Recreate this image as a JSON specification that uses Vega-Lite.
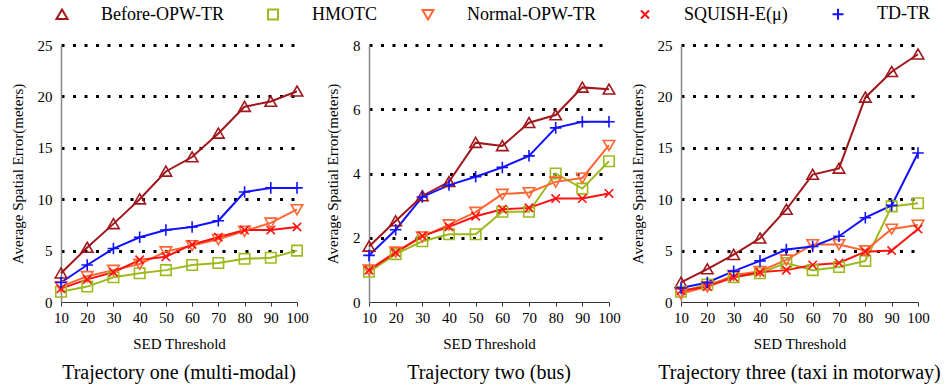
{
  "$schema": "https://vega.github.io/schema/vega-lite/v6.json",
  "padding": {"left": 10, "top": 5, "right": 2, "bottom": 2},
  "background": "white",
  "data": {"values": [
    {"p":1,"s":"Before-OPW-TR","x":10,"y":2.8},{"p":1,"s":"Before-OPW-TR","x":20,"y":5.3},{"p":1,"s":"Before-OPW-TR","x":30,"y":7.6},{"p":1,"s":"Before-OPW-TR","x":40,"y":10.0},{"p":1,"s":"Before-OPW-TR","x":50,"y":12.7},{"p":1,"s":"Before-OPW-TR","x":60,"y":14.1},{"p":1,"s":"Before-OPW-TR","x":70,"y":16.4},{"p":1,"s":"Before-OPW-TR","x":80,"y":19.0},{"p":1,"s":"Before-OPW-TR","x":90,"y":19.5},{"p":1,"s":"Before-OPW-TR","x":100,"y":20.5},
    {"p":1,"s":"HMOTC","x":10,"y":1.0},{"p":1,"s":"HMOTC","x":20,"y":1.5},{"p":1,"s":"HMOTC","x":30,"y":2.4},{"p":1,"s":"HMOTC","x":40,"y":2.8},{"p":1,"s":"HMOTC","x":50,"y":3.1},{"p":1,"s":"HMOTC","x":60,"y":3.6},{"p":1,"s":"HMOTC","x":70,"y":3.8},{"p":1,"s":"HMOTC","x":80,"y":4.2},{"p":1,"s":"HMOTC","x":90,"y":4.3},{"p":1,"s":"HMOTC","x":100,"y":5.0},
    {"p":1,"s":"Normal-OPW-TR","x":10,"y":1.5},{"p":1,"s":"Normal-OPW-TR","x":20,"y":2.5},{"p":1,"s":"Normal-OPW-TR","x":30,"y":3.1},{"p":1,"s":"Normal-OPW-TR","x":40,"y":3.7},{"p":1,"s":"Normal-OPW-TR","x":50,"y":4.9},{"p":1,"s":"Normal-OPW-TR","x":60,"y":5.5},{"p":1,"s":"Normal-OPW-TR","x":70,"y":6.1},{"p":1,"s":"Normal-OPW-TR","x":80,"y":6.9},{"p":1,"s":"Normal-OPW-TR","x":90,"y":7.7},{"p":1,"s":"Normal-OPW-TR","x":100,"y":9.0},
    {"p":1,"s":"SQUISH-E(μ)","x":10,"y":1.3},{"p":1,"s":"SQUISH-E(μ)","x":20,"y":2.2},{"p":1,"s":"SQUISH-E(μ)","x":30,"y":2.9},{"p":1,"s":"SQUISH-E(μ)","x":40,"y":4.1},{"p":1,"s":"SQUISH-E(μ)","x":50,"y":4.4},{"p":1,"s":"SQUISH-E(μ)","x":60,"y":5.6},{"p":1,"s":"SQUISH-E(μ)","x":70,"y":6.3},{"p":1,"s":"SQUISH-E(μ)","x":80,"y":7.0},{"p":1,"s":"SQUISH-E(μ)","x":90,"y":7.0},{"p":1,"s":"SQUISH-E(μ)","x":100,"y":7.3},
    {"p":1,"s":"TD-TR","x":10,"y":1.9},{"p":1,"s":"TD-TR","x":20,"y":3.6},{"p":1,"s":"TD-TR","x":30,"y":5.2},{"p":1,"s":"TD-TR","x":40,"y":6.3},{"p":1,"s":"TD-TR","x":50,"y":7.0},{"p":1,"s":"TD-TR","x":60,"y":7.3},{"p":1,"s":"TD-TR","x":70,"y":7.9},{"p":1,"s":"TD-TR","x":80,"y":10.7},{"p":1,"s":"TD-TR","x":90,"y":11.1},{"p":1,"s":"TD-TR","x":100,"y":11.1},
    {"p":2,"s":"Before-OPW-TR","x":10,"y":1.73},{"p":2,"s":"Before-OPW-TR","x":20,"y":2.52},{"p":2,"s":"Before-OPW-TR","x":30,"y":3.3},{"p":2,"s":"Before-OPW-TR","x":40,"y":3.74},{"p":2,"s":"Before-OPW-TR","x":50,"y":4.96},{"p":2,"s":"Before-OPW-TR","x":60,"y":4.86},{"p":2,"s":"Before-OPW-TR","x":70,"y":5.58},{"p":2,"s":"Before-OPW-TR","x":80,"y":5.82},{"p":2,"s":"Before-OPW-TR","x":90,"y":6.68},{"p":2,"s":"Before-OPW-TR","x":100,"y":6.62},
    {"p":2,"s":"HMOTC","x":10,"y":0.94},{"p":2,"s":"HMOTC","x":20,"y":1.49},{"p":2,"s":"HMOTC","x":30,"y":1.89},{"p":2,"s":"HMOTC","x":40,"y":2.11},{"p":2,"s":"HMOTC","x":50,"y":2.11},{"p":2,"s":"HMOTC","x":60,"y":2.81},{"p":2,"s":"HMOTC","x":70,"y":2.81},{"p":2,"s":"HMOTC","x":80,"y":4.0},{"p":2,"s":"HMOTC","x":90,"y":3.53},{"p":2,"s":"HMOTC","x":100,"y":4.38},
    {"p":2,"s":"Normal-OPW-TR","x":10,"y":1.0},{"p":2,"s":"Normal-OPW-TR","x":20,"y":1.56},{"p":2,"s":"Normal-OPW-TR","x":30,"y":2.03},{"p":2,"s":"Normal-OPW-TR","x":40,"y":2.41},{"p":2,"s":"Normal-OPW-TR","x":50,"y":2.8},{"p":2,"s":"Normal-OPW-TR","x":60,"y":3.36},{"p":2,"s":"Normal-OPW-TR","x":70,"y":3.41},{"p":2,"s":"Normal-OPW-TR","x":80,"y":3.74},{"p":2,"s":"Normal-OPW-TR","x":90,"y":3.86},{"p":2,"s":"Normal-OPW-TR","x":100,"y":4.88},
    {"p":2,"s":"SQUISH-E(μ)","x":10,"y":0.99},{"p":2,"s":"SQUISH-E(μ)","x":20,"y":1.54},{"p":2,"s":"SQUISH-E(μ)","x":30,"y":2.06},{"p":2,"s":"SQUISH-E(μ)","x":40,"y":2.34},{"p":2,"s":"SQUISH-E(μ)","x":50,"y":2.67},{"p":2,"s":"SQUISH-E(μ)","x":60,"y":2.89},{"p":2,"s":"SQUISH-E(μ)","x":70,"y":2.93},{"p":2,"s":"SQUISH-E(μ)","x":80,"y":3.22},{"p":2,"s":"SQUISH-E(μ)","x":90,"y":3.22},{"p":2,"s":"SQUISH-E(μ)","x":100,"y":3.38},
    {"p":2,"s":"TD-TR","x":10,"y":1.45},{"p":2,"s":"TD-TR","x":20,"y":2.25},{"p":2,"s":"TD-TR","x":30,"y":3.27},{"p":2,"s":"TD-TR","x":40,"y":3.64},{"p":2,"s":"TD-TR","x":50,"y":3.9},{"p":2,"s":"TD-TR","x":60,"y":4.19},{"p":2,"s":"TD-TR","x":70,"y":4.55},{"p":2,"s":"TD-TR","x":80,"y":5.42},{"p":2,"s":"TD-TR","x":90,"y":5.61},{"p":2,"s":"TD-TR","x":100,"y":5.61},
    {"p":3,"s":"Before-OPW-TR","x":10,"y":1.9},{"p":3,"s":"Before-OPW-TR","x":20,"y":3.2},{"p":3,"s":"Before-OPW-TR","x":30,"y":4.6},{"p":3,"s":"Before-OPW-TR","x":40,"y":6.2},{"p":3,"s":"Before-OPW-TR","x":50,"y":9.0},{"p":3,"s":"Before-OPW-TR","x":60,"y":12.4},{"p":3,"s":"Before-OPW-TR","x":70,"y":13.0},{"p":3,"s":"Before-OPW-TR","x":80,"y":19.9},{"p":3,"s":"Before-OPW-TR","x":90,"y":22.4},{"p":3,"s":"Before-OPW-TR","x":100,"y":24.1},
    {"p":3,"s":"HMOTC","x":10,"y":1.0},{"p":3,"s":"HMOTC","x":20,"y":1.7},{"p":3,"s":"HMOTC","x":30,"y":2.4},{"p":3,"s":"HMOTC","x":40,"y":2.8},{"p":3,"s":"HMOTC","x":50,"y":3.8},{"p":3,"s":"HMOTC","x":60,"y":3.1},{"p":3,"s":"HMOTC","x":70,"y":3.4},{"p":3,"s":"HMOTC","x":80,"y":4.0},{"p":3,"s":"HMOTC","x":90,"y":9.3},{"p":3,"s":"HMOTC","x":100,"y":9.6},
    {"p":3,"s":"Normal-OPW-TR","x":10,"y":0.8},{"p":3,"s":"Normal-OPW-TR","x":20,"y":1.5},{"p":3,"s":"Normal-OPW-TR","x":30,"y":2.6},{"p":3,"s":"Normal-OPW-TR","x":40,"y":3.0},{"p":3,"s":"Normal-OPW-TR","x":50,"y":4.1},{"p":3,"s":"Normal-OPW-TR","x":60,"y":5.6},{"p":3,"s":"Normal-OPW-TR","x":70,"y":5.6},{"p":3,"s":"Normal-OPW-TR","x":80,"y":5.0},{"p":3,"s":"Normal-OPW-TR","x":90,"y":7.1},{"p":3,"s":"Normal-OPW-TR","x":100,"y":7.5},
    {"p":3,"s":"SQUISH-E(μ)","x":10,"y":1.1},{"p":3,"s":"SQUISH-E(μ)","x":20,"y":1.5},{"p":3,"s":"SQUISH-E(μ)","x":30,"y":2.4},{"p":3,"s":"SQUISH-E(μ)","x":40,"y":2.9},{"p":3,"s":"SQUISH-E(μ)","x":50,"y":3.1},{"p":3,"s":"SQUISH-E(μ)","x":60,"y":3.6},{"p":3,"s":"SQUISH-E(μ)","x":70,"y":3.8},{"p":3,"s":"SQUISH-E(μ)","x":80,"y":4.9},{"p":3,"s":"SQUISH-E(μ)","x":90,"y":5.0},{"p":3,"s":"SQUISH-E(μ)","x":100,"y":7.1},
    {"p":3,"s":"TD-TR","x":10,"y":1.36},{"p":3,"s":"TD-TR","x":20,"y":1.9},{"p":3,"s":"TD-TR","x":30,"y":3.0},{"p":3,"s":"TD-TR","x":40,"y":4.0},{"p":3,"s":"TD-TR","x":50,"y":5.1},{"p":3,"s":"TD-TR","x":60,"y":5.4},{"p":3,"s":"TD-TR","x":70,"y":6.4},{"p":3,"s":"TD-TR","x":80,"y":8.2},{"p":3,"s":"TD-TR","x":90,"y":9.4},{"p":3,"s":"TD-TR","x":100,"y":14.5}
  ]},
  "spacing": 72,
  "bounds": "flush",
  "hconcat": [
    {
      "width": 236, "height": 257,
      "title": {"text": "Trajectory one (multi-modal)", "orient": "bottom", "offset": 12},
      "transform": [{"filter": "datum.p == 1"}],
      "encoding": {
        "x": {"field": "x", "type": "quantitative", "scale": {"domain": [10, 100], "nice": false, "zero": false}, "axis": {"values": [10,20,30,40,50,60,70,80,90,100], "title": "SED Threshold", "titleFont": "Liberation Serif", "titleFontWeight": "normal", "titleFontSize": 15}},
        "y": {"field": "y", "type": "quantitative", "scale": {"domain": [0, 25], "nice": false}, "axis": {"values": [0,5,10,15,20,25], "title": "Average Spatial Error(meters)", "titleFont": "Liberation Serif", "titleFontWeight": "normal", "titleFontSize": 15, "gridOpacity": {"condition": {"test": "datum.value === 0", "value": 0}, "value": 1}}},
        "color": {"field": "s", "type": "nominal", "scale": {"domain": ["Before-OPW-TR","HMOTC","Normal-OPW-TR","SQUISH-E(μ)","TD-TR"], "range": ["#a0161b","#9cba1c","#ff6633","#ff1111","#1111ff"]},
          "legend": {"orient": "none", "legendX": -8, "legendY": -40, "direction": "horizontal", "title": null, "labelOffset": 30, "columnPadding": 40, "symbolSize": 100, "labelFontSize": 18, "labelFont": "Liberation Serif", "labelColor": "#000", "symbolStrokeWidth": 2, "symbolFillColor": "transparent"}}
      },
      "layer": [
        {"mark": {"type": "line", "strokeWidth": 2}},
        {"mark": {"type": "point", "filled": false, "size": 110, "strokeWidth": 1.6, "opacity": 1},
         "encoding": {"shape": {"field": "s", "type": "nominal",
           "legend": {"orient": "none", "legendX": -8, "legendY": -40, "direction": "horizontal", "title": null, "labelOffset": 30, "columnPadding": 40, "symbolSize": 100, "labelFontSize": 18, "labelFont": "Liberation Serif", "labelColor": "#000", "symbolStrokeWidth": 2, "symbolFillColor": "transparent"},
           "scale": {"domain": ["Before-OPW-TR","HMOTC","Normal-OPW-TR","SQUISH-E(μ)","TD-TR"], "range": ["M0,-1L1.1,0.9L-1.1,0.9Z","M-1,-1H1V1H-1Z","M-1.1,-0.9H1.1L0,1Z","M-0.8,-0.8L0.8,0.8M-0.8,0.8L0.8,-0.8","M0,-1.1V1.1M-1.1,0H1.1"]}}}}
      ]
    },
    {
      "width": 240, "height": 257,
      "title": {"text": "Trajectory two (bus)", "orient": "bottom", "offset": 12},
      "transform": [{"filter": "datum.p == 2"}],
      "encoding": {
        "x": {"field": "x", "type": "quantitative", "scale": {"domain": [10, 100], "nice": false, "zero": false}, "axis": {"values": [10,20,30,40,50,60,70,80,90,100], "title": "SED Threshold", "titleFont": "Liberation Serif", "titleFontWeight": "normal", "titleFontSize": 15}},
        "y": {"field": "y", "type": "quantitative", "scale": {"domain": [0, 8], "nice": false}, "axis": {"values": [0,2,4,6,8], "title": "Average Spatial Error(meters)", "titleFont": "Liberation Serif", "titleFontWeight": "normal", "titleFontSize": 15, "gridOpacity": {"condition": {"test": "datum.value === 0", "value": 0}, "value": 1}}},
        "color": {"field": "s", "type": "nominal", "scale": {"domain": ["Before-OPW-TR","HMOTC","Normal-OPW-TR","SQUISH-E(μ)","TD-TR"], "range": ["#a0161b","#9cba1c","#ff6633","#ff1111","#1111ff"]}}
      },
      "layer": [
        {"mark": {"type": "line", "strokeWidth": 2}},
        {"mark": {"type": "point", "filled": false, "size": 110, "strokeWidth": 1.6, "opacity": 1},
         "encoding": {"shape": {"field": "s", "type": "nominal", "scale": {"domain": ["Before-OPW-TR","HMOTC","Normal-OPW-TR","SQUISH-E(μ)","TD-TR"], "range": ["M0,-1L1.1,0.9L-1.1,0.9Z","M-1,-1H1V1H-1Z","M-1.1,-0.9H1.1L0,1Z","M-0.8,-0.8L0.8,0.8M-0.8,0.8L0.8,-0.8","M0,-1.1V1.1M-1.1,0H1.1"]}}}}
      ]
    },
    {
      "width": 237, "height": 257,
      "title": {"text": "Trajectory three (taxi in motorway)", "orient": "bottom", "offset": 12},
      "transform": [{"filter": "datum.p == 3"}],
      "encoding": {
        "x": {"field": "x", "type": "quantitative", "scale": {"domain": [10, 100], "nice": false, "zero": false}, "axis": {"values": [10,20,30,40,50,60,70,80,90,100], "title": "SED Threshold", "titleFont": "Liberation Serif", "titleFontWeight": "normal", "titleFontSize": 15}},
        "y": {"field": "y", "type": "quantitative", "scale": {"domain": [0, 25], "nice": false}, "axis": {"values": [0,5,10,15,20,25], "title": "Average Spatial Error(meters)", "titleFont": "Liberation Serif", "titleFontWeight": "normal", "titleFontSize": 15, "gridOpacity": {"condition": {"test": "datum.value === 0", "value": 0}, "value": 1}}},
        "color": {"field": "s", "type": "nominal", "scale": {"domain": ["Before-OPW-TR","HMOTC","Normal-OPW-TR","SQUISH-E(μ)","TD-TR"], "range": ["#a0161b","#9cba1c","#ff6633","#ff1111","#1111ff"]}}
      },
      "layer": [
        {"mark": {"type": "line", "strokeWidth": 2}},
        {"mark": {"type": "point", "filled": false, "size": 110, "strokeWidth": 1.6, "opacity": 1},
         "encoding": {"shape": {"field": "s", "type": "nominal", "scale": {"domain": ["Before-OPW-TR","HMOTC","Normal-OPW-TR","SQUISH-E(μ)","TD-TR"], "range": ["M0,-1L1.1,0.9L-1.1,0.9Z","M-1,-1H1V1H-1Z","M-1.1,-0.9H1.1L0,1Z","M-0.8,-0.8L0.8,0.8M-0.8,0.8L0.8,-0.8","M0,-1.1V1.1M-1.1,0H1.1"]}}}}
      ]
    }
  ],
  "config": {
    "font": "Liberation Serif",
    "view": {"stroke": null},
    "axis": {"labelFont": "Liberation Serif", "titleFont": "Liberation Serif", "labelFontSize": 15, "titleFontSize": 15, "titleFontWeight": "normal", "labelColor": "#000", "titleColor": "#000", "labelFlush": false, "labelOverlap": false},
    "axisX": {"grid": false, "domainColor": "#333", "domainWidth": 1, "tickColor": "#333", "tickSize": 4, "labelPadding": 4, "titlePadding": 11},
    "axisY": {"grid": true, "gridColor": "#000", "gridDash": [3, 8.5], "gridWidth": 3, "domainColor": "#888", "domainWidth": 1.5, "ticks": false, "labelPadding": 9, "titlePadding": 12},
    "title": {"font": "Liberation Serif", "fontSize": 20, "fontWeight": "normal", "color": "#000"}
  }
}
